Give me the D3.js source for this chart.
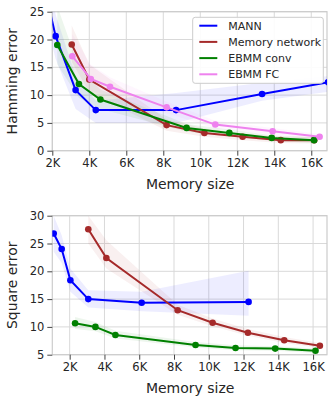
<!DOCTYPE html>
<html><head><meta charset="utf-8">
<script src="https://cdn.jsdelivr.net/npm/d3@7"></script>
<style>
body{margin:0;background:#fff;}
svg text{font-family:"DejaVu Sans",sans-serif;fill:#262626;}
</style></head>
<body><svg id="c" width="328" height="406"></svg>
<script>
// ---- data (top: Hamming error) ----
const seriesNames = ["MANN","Memory network","EBMM conv","EBMM FC"];
const seriesColors = ["#0000ff","#a52a2a","#008000","#ee82ee"];
const xTicks = [2000,4000,6000,8000,10000,12000,14000,16000];
const yTicksTop = [0,5,10,15,20,25];
const yTicksBot = [5,10,15,20,25,30];

const mannTopX  = [1600, 2180, 3260, 4350, 8690, 13340, 16900];
const mannTopY  = [29, 20.6, 10.9, 7.3, 7.3, 10.2, 12.3];
const mannTopLo = [24, 16.5, 7.5, 5.0, 5.0, 9.0, 10.6];
const mannTopHi = [33, 24.5, 13.5, 9.0, 10.4, 12.2, 13.4];

const mnTopX  = [3050, 4000, 8180, 10220, 12290, 14350, 16160];
const mnTopY  = [19.1, 12.8, 4.6, 3.2, 2.5, 1.9, 1.9];
const mnTopLo = [16, 10.5, 3.6, 2.5, 1.9, 1.4, 1.3];
const mnTopHi = [22.5, 15.5, 5.6, 4.0, 3.1, 2.5, 2.5];

const convTopX  = [2270, 3440, 4600, 9260, 11570, 13860, 16150];
const convTopY  = [19.0, 12.0, 9.2, 4.1, 3.2, 2.3, 1.9];
const convTopLo = [15.5, 9.5, 7.5, 3.4, 2.6, 1.8, 1.4];
const convTopHi = [26.0, 15.0, 11.0, 4.8, 3.8, 2.8, 2.4];

const fcTopX  = [3080, 4080, 5120, 8180, 10810, 13910, 16450];
const fcTopY  = [17.0, 12.9, 11.5, 7.8, 4.7, 3.5, 2.5];
const fcTopLo = [13.5, 10.8, 9.8, 6.8, 4.0, 2.9, 2.0];
const fcTopHi = [21.0, 15.5, 13.2, 8.8, 5.4, 4.1, 3.0];

// ---- data (bottom: Square error) ----
const mannBotX  = [1080, 1540, 2040, 3070, 6140, 12290];
const mannBotY  = [26.8, 24.0, 18.4, 15.0, 14.35, 14.5];
const mannBotLo = [23.5, 21.5, 16.3, 13.5, 12.8, 12.0];
const mannBotHi = [30.0, 26.5, 20.5, 16.6, 16.3, 20.1];

const mnBotX  = [3070, 4110, 8210, 10220, 12250, 14340, 16390];
const mnBotY  = [27.55, 22.4, 13.0, 10.75, 8.95, 7.6, 6.6];
const mnBotLo = [25.0, 20.5, 12.2, 10.1, 8.4, 7.1, 6.2];
const mnBotHi = [30.0, 25.6, 14.0, 11.5, 9.6, 8.2, 7.1];

const convBotX  = [2310, 3480, 4630, 9240, 11540, 13820, 16140];
const convBotY  = [10.65, 10.0, 8.55, 6.75, 6.2, 6.1, 5.7];
const convBotLo = [9.6, 9.2, 7.9, 6.3, 5.8, 5.7, 5.3];
const convBotHi = [11.8, 10.9, 9.3, 7.3, 6.7, 6.5, 6.1];

function zip(xs, ys, lo, hi){ return xs.map((x,i)=>({x, y:ys[i], lo:lo[i], hi:hi[i]})); }

const topSeries = [
  {name:seriesNames[0], color:seriesColors[0], data:zip(mannTopX,mannTopY,mannTopLo,mannTopHi)},
  {name:seriesNames[1], color:seriesColors[1], data:zip(mnTopX,mnTopY,mnTopLo,mnTopHi)},
  {name:seriesNames[2], color:seriesColors[2], data:zip(convTopX,convTopY,convTopLo,convTopHi)},
  {name:seriesNames[3], color:seriesColors[3], data:zip(fcTopX,fcTopY,fcTopLo,fcTopHi)}
];
const botSeries = [
  {name:seriesNames[0], color:seriesColors[0], data:zip(mannBotX,mannBotY,mannBotLo,mannBotHi)},
  {name:seriesNames[1], color:seriesColors[1], data:zip(mnBotX,mnBotY,mnBotLo,mnBotHi)},
  {name:seriesNames[2], color:seriesColors[2], data:zip(convBotX,convBotY,convBotLo,convBotHi)}
];

const svg = d3.select("#c");
const fmtK = d => (d/1000) + "K";

function panel(id, top, bottom, xDom, yDom, yTicks, yLabel, series, legend){
  const left = 52.3, right = 327;
  const x = d3.scaleLinear().domain(xDom).range([left, right]);
  const y = d3.scaleLinear().domain(yDom).range([bottom, top]);
  const g = svg.append("g");
  g.append("clipPath").attr("id", id).append("rect")
    .attr("x", left).attr("y", top).attr("width", right-left).attr("height", bottom-top);
  // grid
  const grid = g.append("g").attr("stroke", "#d9d9d9").attr("stroke-width", 1);
  xTicks.forEach(t => grid.append("line").attr("x1", x(t)).attr("x2", x(t)).attr("y1", top).attr("y2", bottom));
  yTicks.forEach(t => grid.append("line").attr("x1", left).attr("x2", right).attr("y1", y(t)).attr("y2", y(t)));
  // frame
  g.append("rect").attr("x", left).attr("y", top).attr("width", right-left).attr("height", bottom-top)
    .attr("fill", "none").attr("stroke", "#cccccc").attr("stroke-width", 1.2);
  // axes
  const xa = g.append("g").attr("transform", `translate(0,${bottom})`)
    .call(d3.axisBottom(x).tickValues(xTicks).tickFormat(fmtK).tickSize(5).tickPadding(3));
  const ya = g.append("g").attr("transform", `translate(${left},0)`)
    .call(d3.axisLeft(y).tickValues(yTicks).tickSize(5).tickPadding(3));
  [xa, ya].forEach(a => {
    a.select(".domain").remove();
    a.selectAll(".tick line").attr("stroke", "#444").attr("stroke-width", 1);
    a.selectAll(".tick text").style("font-size", "11.5px").style("font-family", "DejaVu Sans").attr("fill", "#262626");
  });
  g.append("text").attr("x", (left+right)/2 + 0.5).attr("y", bottom + 38)
    .attr("text-anchor", "middle").style("font-size", "14px").text("Memory size");
  g.append("text").attr("transform", `translate(17,${(top+bottom)/2}) rotate(-90)`)
    .attr("text-anchor", "middle").style("font-size", "14px").text(yLabel);

  const plot = g.append("g").attr("clip-path", `url(#${id})`);
  const area = d3.area().x(d => x(d.x)).y0(d => y(d.lo)).y1(d => y(d.hi));
  const line = d3.line().x(d => x(d.x)).y(d => y(d.y));
  series.forEach(s => {
    plot.append("path").datum(s.data).attr("d", area).attr("fill", s.color).attr("fill-opacity", 0.07);
  });
  series.forEach(s => {
    plot.append("path").datum(s.data).attr("d", line).attr("fill", "none")
      .attr("stroke", s.color).attr("stroke-width", 2);
    plot.selectAll(null).data(s.data).enter().append("circle")
      .attr("cx", d => x(d.x)).attr("cy", d => y(d.y)).attr("r", 3.3).attr("fill", s.color);
  });

  if (legend){
    const lg = g.append("g");
    lg.append("rect").attr("x", 192.7).attr("y", 17.3).attr("width", 130.6).attr("height", 66)
      .attr("rx", 2.5).attr("fill", "#fff").attr("fill-opacity", 0.9).attr("stroke", "#cccccc").attr("stroke-width", 1);
    series.forEach((s, i) => {
      const cy = 25.7 + i * 16.2;
      lg.append("line").attr("x1", 199.3).attr("x2", 217.3).attr("y1", cy).attr("y2", cy)
        .attr("stroke", s.color).attr("stroke-width", 2);
      lg.append("text").attr("x", 228.3).attr("y", cy).attr("dy", "0.36em")
        .style("font-size", "11px").text(s.name);
    });
  }
}

panel("clipTop", 11.7, 150.7, [2000, 16850], [0, 25], yTicksTop, "Hamming error", topSeries, true);
panel("clipBot", 215.7, 354.7, [1000, 16800], [5, 30], yTicksBot, "Square error", botSeries, false);
</script></body></html>
